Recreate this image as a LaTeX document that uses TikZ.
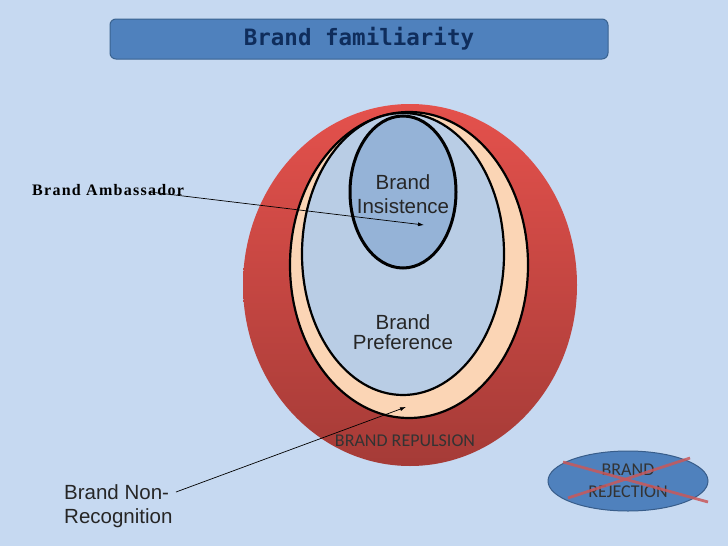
\documentclass[tikz,border=0pt]{standalone}
\usepackage{fontspec}
\setmainfont{Liberation Sans}
\newfontfamily\monofnt{DejaVu Sans Mono}
\newfontfamily\timesfnt[LetterSpace=8]{Liberation Serif}
\newfontfamily\calfnt{Carlito}
\usetikzlibrary{arrows.meta,shapes.geometric}
\definecolor{bg}{HTML}{C6D9F1}
\definecolor{titlefill}{HTML}{4F81BD}
\definecolor{titleedge}{HTML}{3A6390}
\definecolor{titletext}{HTML}{0F2D5C}
\definecolor{redtop}{HTML}{E4514C}
\definecolor{redbot}{HTML}{A53B37}
\definecolor{peach}{HTML}{FBD5B5}
\definecolor{prefblue}{HTML}{B9CDE5}
\definecolor{insblue}{HTML}{95B3D7}
\definecolor{rejfill}{HTML}{4F81BD}
\definecolor{rejedge}{HTML}{385D8A}
\definecolor{xred}{HTML}{C9585A}
\tikzset{
  ring/.style={draw=black, line width=2.2pt},
  lbl/.style={font=\fontsize{20.5}{24}\selectfont, align=center, text=black!85},
  ptr/.style={-{Latex[length=6pt,width=4pt]}, line width=0.7pt}
}
\begin{document}
\begin{tikzpicture}[x=1pt,y=-1pt]
\fill[bg] (0,0) rectangle (728,546);
\useasboundingbox (0,0) rectangle (728,546);
% title
\node[draw=titleedge, line width=1pt, fill=titlefill, rounded corners=6pt,
  minimum width=498pt, minimum height=40pt, inner sep=0pt,
  font=\monofnt\bfseries\fontsize{22.5}{24}\selectfont, text=titletext] (title) at (359,39) {Brand familiarity};
% circles
\shade[top color=redtop, bottom color=redbot] (410,285) ellipse [x radius=167, y radius=181];
\path (410,285) node[minimum width=334pt, minimum height=362pt, inner sep=0pt] (red) {};
\fill[peach, ring] (409,265) ellipse [x radius=119, y radius=153];
\fill[prefblue, ring] (403,254) ellipse [x radius=101, y radius=141];
\fill[insblue, draw=black, line width=3pt] (403,192) ellipse [x radius=53, y radius=76];
\node[lbl] (ins) at (403,194) {Brand\\Insistence};
\node[lbl, font=\fontsize{20.5}{20}\selectfont] (pref) at (403,332) {Brand\\Preference};
\node[font=\calfnt\fontsize{18}{20}\selectfont, text=black!80] (rep) at (405,441) {BRAND REPULSION};
% labels and arrows
\node[font=\timesfnt\bfseries\fontsize{16}{18}\selectfont, anchor=west, inner sep=0pt] (amb) at (32,190) {Brand Ambassador};
\coordinate (ambend) at (424,225);
\coordinate (ambstart) at (150,192);
\draw[ptr] (ambstart) -- (ambend);
\node[lbl, align=left, anchor=west, inner sep=0pt] (nonrec) at (64,506) {Brand Non-\\Recognition};
\coordinate (nrstart) at (176,492);
\coordinate (nrend) at (406,407);
\draw[ptr] (nrstart) -- (nrend);
% rejection
\node[ellipse, draw=rejedge, line width=1pt, fill=rejfill, minimum width=160pt, minimum height=60pt, inner sep=0pt,
  font=\calfnt\fontsize{18}{22}\selectfont, text=black!80, align=center] (rej) at (628,481) {BRAND\\REJECTION};
\coordinate (x1a) at (563,462);
\coordinate (x1b) at (708,502);
\coordinate (x2a) at (568,498);
\coordinate (x2b) at (690,458);
\draw[xred, line width=2.8pt, opacity=0.85] (x1a) -- (x1b);
\draw[xred, line width=2.8pt, opacity=0.85] (x2a) -- (x2b);
\end{tikzpicture}
\end{document}
